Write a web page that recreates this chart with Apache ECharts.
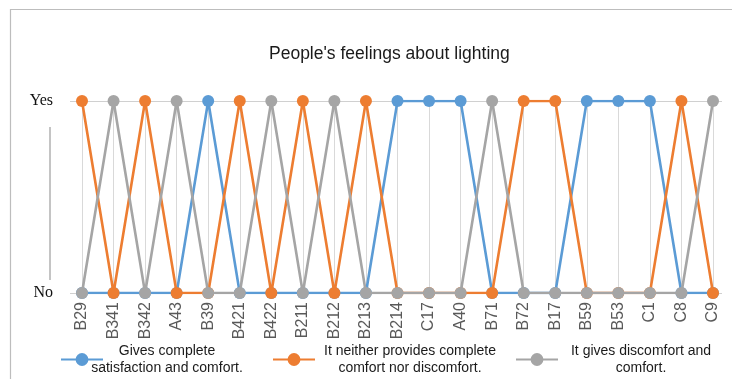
<!DOCTYPE html>
<html>
<head>
<meta charset="utf-8">
<script src="https://cdn.jsdelivr.net/npm/echarts@6/dist/echarts.min.js"></script>
<style>
  html, body { margin: 0; padding: 0; background: #fff; }
  #chart { width: 732px; height: 379px; }
</style>
</head>
<body>
<div id="chart"></div>
<script>
// Survey answers per room: 1 = Yes, 0 = No
const categories = ['B29', 'B341', 'B342', 'A43', 'B39', 'B421', 'B422', 'B211', 'B212', 'B213',
  'B214', 'C17', 'A40', 'B71', 'B72', 'B17', 'B59', 'B53', 'C1', 'C8', 'C9'];
const yLabels = ['No', 'Yes'];

const satisfied   = [0, 0, 0, 0, 1, 0, 0, 0, 0, 0, 1, 1, 1, 0, 0, 0, 1, 1, 1, 0, 0];
const neutral     = [1, 0, 1, 0, 0, 1, 0, 1, 0, 1, 0, 0, 0, 0, 1, 1, 0, 0, 0, 1, 0];
const discomfort  = [0, 1, 0, 1, 0, 0, 1, 0, 1, 0, 0, 0, 0, 1, 0, 0, 0, 0, 0, 0, 1];

const seriesNames = [
  'Gives complete satisfaction and comfort.',
  'It neither provides complete comfort nor discomfort.',
  'It gives discomfort and comfort.'
];
const legendLines = [
  ['Gives complete', 'satisfaction and comfort.'],
  ['It neither provides complete', 'comfort nor discomfort.'],
  ['It gives discomfort and', 'comfort.']
];
const seriesData = [satisfied, neutral, discomfort];
const colors = ['#5B9BD5', '#ED7D31', '#A5A5A5'];

const SANS = '"Liberation Sans", Arial, sans-serif';
const SERIF = '"Liberation Serif", "Times New Roman", serif';

const chart = echarts.init(document.getElementById('chart'), null, { renderer: 'canvas' });

const legendLayout = [
  { left: 55, width: 118 },
  { left: 267, width: 180 },
  { left: 510, width: 156 }
];

const option = {
  backgroundColor: '#fff',
  animation: false,
  title: {
    text: "People's feelings about lighting",
    left: 264,
    top: 40,
    textStyle: { fontFamily: SANS, fontSize: 17.5, fontWeight: 'normal', color: '#1a1a1a' }
  },
  legend: seriesNames.map((name, i) => ({
    data: [name],
    left: legendLayout[i].left,
    top: 339,
    itemWidth: 42,
    itemHeight: 16,
    itemGap: 0,
    selectedMode: false,
    formatter: n => legendLines[i].map(l => '{t|' + l + '}').join('\n'),
    textStyle: {
      rich: {
        t: {
          width: legendLayout[i].width,
          align: 'center',
          fontFamily: SANS,
          fontSize: 14,
          lineHeight: 17,
          color: '#1a1a1a'
        }
      }
    }
  })),
  grid: [
    { left: 82, right: 19, top: 101, bottom: 86 },
    { left: 70, right: 10, top: 101, bottom: 86 }
  ],
  xAxis: [
    {
      type: 'category',
      gridIndex: 0,
      data: categories,
      boundaryGap: false,
      axisLine: { show: false },
      axisTick: { show: false },
      splitLine: { show: true, lineStyle: { color: '#d9d9d9', width: 1 } },
      axisLabel: {
        rotate: 90,
        margin: 9,
        fontFamily: SANS,
        fontSize: 16,
        color: '#595959'
      }
    },
    {
      type: 'value',
      gridIndex: 1,
      show: false
    }
  ],
  yAxis: [
    {
      type: 'value',
      gridIndex: 0,
      min: 0,
      max: 1,
      interval: 1,
      show: false
    },
    {
      type: 'value',
      gridIndex: 1,
      min: 0,
      max: 1,
      interval: 1,
      axisLine: { show: false },
      axisTick: { show: false },
      splitLine: { show: true, lineStyle: { color: '#d0d0d0', width: 1.2 } },
      axisLabel: {
        margin: 17,
        fontFamily: SERIF,
        fontSize: 16,
        color: '#111',
        formatter: v => yLabels[v]
      }
    }
  ],
  series: seriesNames.map((name, i) => ({
    name: name,
    type: 'line',
    xAxisIndex: 0,
    yAxisIndex: 0,
    data: seriesData[i],
    symbol: 'circle',
    symbolSize: 12,
    color: colors[i],
    lineStyle: { width: 2.6, color: colors[i] },
    itemStyle: { color: colors[i] },
    z: 2 + i
  })),
  graphic: [
    {
      type: 'polyline',
      shape: { points: [[10.5, 379], [10.5, 9.5], [732, 9.5]] },
      style: { stroke: '#bdbdbd', lineWidth: 1.2, fill: null },
      silent: true
    },
    {
      type: 'line',
      shape: { x1: 50, y1: 127, x2: 50, y2: 280 },
      style: { stroke: '#b0b0b0', lineWidth: 1.5 },
      silent: true
    }
  ]
};

chart.setOption(option);
</script>
</body>
</html>
